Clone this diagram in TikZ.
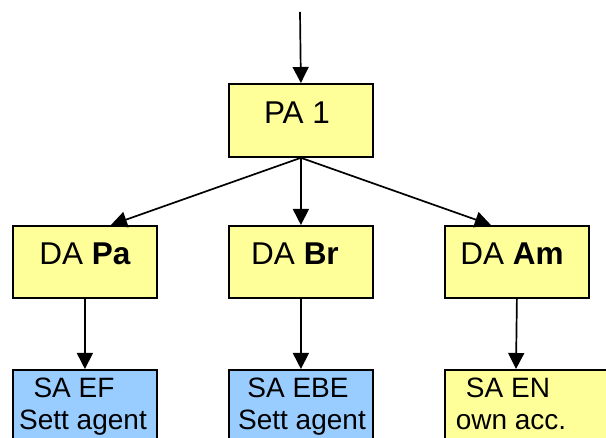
\documentclass[tikz,border=0pt]{standalone}
\usepackage{fontspec}
\setmainfont{Liberation Sans}
\usetikzlibrary{arrows.meta,calc}
\definecolor{boxyellow}{HTML}{FFFF99}
\definecolor{boxblue}{HTML}{99CCFF}
\tikzset{
  box/.style={draw=black, line width=1.8pt, inner sep=0pt, anchor=north west},
  yellowbox/.style={box, fill=boxyellow},
  bluebox/.style={box, fill=boxblue},
  link/.style={draw=black, line width=1.7pt, -{Triangle[length=16pt,width=16pt]}},
  big/.style={font=\fontsize{31.5}{36}\selectfont, inner sep=0pt, anchor=base},
  small/.style={font=\fontsize{28}{32}\selectfont, inner sep=0pt, anchor=base},
}
\begin{document}
\begin{tikzpicture}[x=1pt,y=-1pt]
  \useasboundingbox (0,0) rectangle (606,438);
  \clip (0,0) rectangle (606,438);

  % top level
  \node[yellowbox, minimum width=144pt, minimum height=73pt] (pa1) at (228,83) {};
  \node[big] (pa1t) at (297,124) {PA 1};

  % second level
  \node[yellowbox, minimum width=144pt, minimum height=72pt] (dapa) at (12,225) {};
  \node[yellowbox, minimum width=144pt, minimum height=72pt] (dabr) at (228,225) {};
  \node[yellowbox, minimum width=144pt, minimum height=72pt] (daam) at (444,225) {};
  \node[big] (dapat) at (85,265) {DA \textbf{Pa}};
  \node[big] (dabrt) at (295,265) {DA \textbf{Br}};
  \node[big] (daamt) at (512,265) {DA \textbf{Am}};

  % third level
  \node[bluebox, minimum width=144pt, minimum height=100pt] (saef) at (12,369) {};
  \node[bluebox, minimum width=144pt, minimum height=100pt] (saebe) at (228,369) {};
  \node[yellowbox, minimum width=180pt, minimum height=100pt] (saen) at (444,369) {};
  \node[small] (saef1) at (74,398) {SA EF};
  \node[small] (saef2) at (83,430) {Sett agent};
  \node[small] (saebe1) at (298,398) {SA EBE};
  \node[small] (saebe2) at (302,430) {Sett agent};
  \node[small] (saen1) at (508,398) {SA EN};
  \node[small] (saen2) at (511,430) {own acc.};

  % connectors
  \coordinate (entry) at (300,12);
  \draw[link] (entry) -- (pa1.north);
  \draw[link] (pa1.south) -- ($(dapa.north)+(26,0)$);
  \draw[link] (pa1.south) -- (dabr.north);
  \draw[link] (pa1.south) -- ($(daam.north)+(-26,0)$);
  \draw[link] (dapa.south) -- (saef.north);
  \draw[link] (dabr.south) -- (saebe.north);
  \draw[link] (daam.south) -- ($(saen.north west)+(72,0)$);
\end{tikzpicture}
\end{document}
